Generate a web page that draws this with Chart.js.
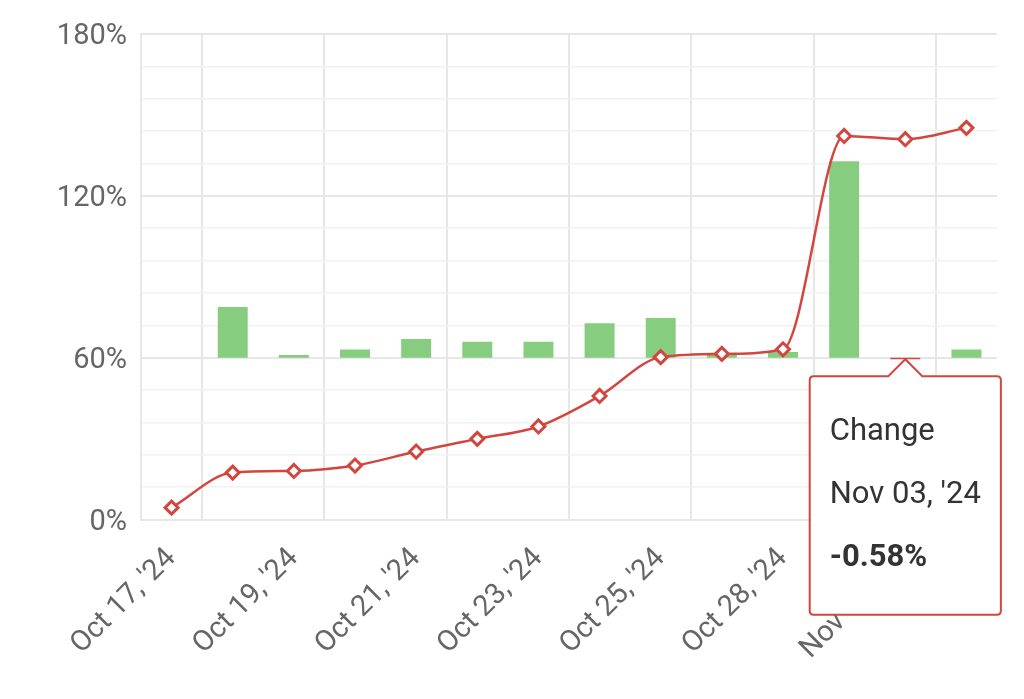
<!DOCTYPE html>
<html>
<head>
<meta charset="utf-8">
<script src="https://cdn.jsdelivr.net/npm/chart.js@4.4.1/dist/chart.umd.min.js"></script>
<style>
  html, body { margin: 0; padding: 0; background: #fff; }
  #wrap { width: 1024px; height: 699px; position: relative; }
</style>
</head>
<body>
<div id="wrap"><canvas id="chart"></canvas></div>
<script>
// Dates on the x axis
const dates = ["Oct 17, '24", "Oct 18, '24", "Oct 19, '24", "Oct 20, '24", "Oct 21, '24", "Oct 22, '24", "Oct 23, '24",
  "Oct 24, '24", "Oct 25, '24", "Oct 27, '24", "Oct 28, '24", "Nov 01, '24", "Nov 03, '24", "Nov 04, '24"]

// Cumulative value (line), in %
const cumulative = [4.4, 17.4, 18.0, 20.0, 25.2, 29.9, 34.5, 45.8, 60.2, 61.4, 63.1, 142.2, 141.0, 145.2]

// Daily change (bars), in %; first day has none
const change = [null, 18.8, 1.0, 3.0, 6.9, 5.9, 5.9, 12.8, 14.7, 1.8, 2.1, 72.8, -0.58, 3.0]

// y grid lines, and the ones that carry a label
const yTicks = [0, 12, 24, 36, 48, 60, 72, 84, 96, 108, 120, 132, 144, 156, 168, 180]
const yLabelTicks = [0, 60, 120, 180]

const RED = "#d3463f"
const GREEN = "#86cd80"
const GRID = "#e7e7e7"
const GRID_MINOR = "#f1f1f1"
const FONT = "Roboto"

const barColors = change.map(v => (v !== null && v < 0) ? RED : GREEN)

const chart = new Chart(document.getElementById("chart"), {
  type: "bar",
  data: {
    labels: dates,
    datasets: [
      {
        type: "bar",
        label: "Change",
        data: change,
        yAxisID: "y1",
        backgroundColor: barColors,
        hoverBackgroundColor: barColors,
        borderWidth: 0,
        categoryPercentage: 1,
        barPercentage: 0.49,
        order: 1
      },
      {
        type: "line",
        label: "Total",
        data: cumulative,
        yAxisID: "y",
        borderColor: RED,
        borderWidth: 2.5,
        cubicInterpolationMode: "monotone",
        pointStyle: "rectRot",
        pointRadius: 6.5,
        pointHoverRadius: 6.5,
        pointBorderWidth: 3,
        pointBackgroundColor: "#fff",
        pointBorderColor: RED,
        order: 0
      }
    ]
  },
  options: {
    responsive: true,
    maintainAspectRatio: false,
    animation: false,
    events: [],
    layout: {
      padding: { left: 0, top: 34, right: 27, bottom: 0 }
    },
    plugins: {
      legend: { display: false },
      tooltip: {
        enabled: true,
        backgroundColor: "#fff",
        borderColor: RED,
        borderWidth: 2,
        cornerRadius: 4,
        caretSize: 17,
        caretPadding: 0,
        xAlign: "center",
        yAlign: "top",
        displayColors: false,
        titleColor: "#333",
        bodyColor: "#333",
        titleFont: { family: FONT, size: 31, weight: "normal" },
        bodyFont: { family: FONT, size: 31, weight: "bold" },
        titleSpacing: 26,
        titleMarginBottom: 26,
        padding: { top: 37, bottom: 38, left: 20, right: 20 },
        callbacks: {
          title: items => [items[0].dataset.label, items[0].label],
          label: ctx => ctx.parsed.y.toFixed(2) + "%"
        }
      }
    },
    scales: {
      x: {
        offset: true,
        grid: {
          offset: true,
          drawTicks: false,
          lineWidth: 2,
          // line after each labelled day, plus the outer borders
          color: ctx => (ctx.index % 2 === 1 || ctx.index === 0 || ctx.index === dates.length) ? GRID : "rgba(0,0,0,0)"
        },
        border: { color: GRID, width: 2 },
        ticks: {
          autoSkip: false,
          minRotation: 45,
          maxRotation: 45,
          padding: 22,
          color: "#666",
          font: { family: FONT, size: 29 },
          callback: function (value, index) {
            return index % 2 === 0 ? this.getLabelForValue(value) : ""
          }
        },
        afterFit: scale => { scale.height = 179.5 }
      },
      y: {
        min: 0,
        max: 180,
        afterBuildTicks: scale => { scale.ticks = yTicks.map(v => ({ value: v })) },
        grid: {
          drawTicks: false,
          color: ctx => yLabelTicks.includes(ctx.tick.value) ? GRID : GRID_MINOR,
          lineWidth: ctx => yLabelTicks.includes(ctx.tick.value) ? 2 : 1.5
        },
        border: { color: GRID, width: 2 },
        ticks: {
          autoSkip: false,
          padding: 14,
          labelOffset: 3,
          color: "#666",
          font: { family: FONT, size: 29 },
          callback: v => yLabelTicks.includes(v) ? v + "%" : ""
        },
        afterFit: scale => { scale.width = 141 }
      },
      y1: {
        display: false,
        min: -60,
        max: 120
      }
    }
  }
})

// Show the tooltip on the Nov 03 bar
const active = [{ datasetIndex: 0, index: 12 }]
chart.setActiveElements(active)
chart.tooltip.setActiveElements(active, { x: 0, y: 0 })
chart.update()
</script>
</body>
</html>
